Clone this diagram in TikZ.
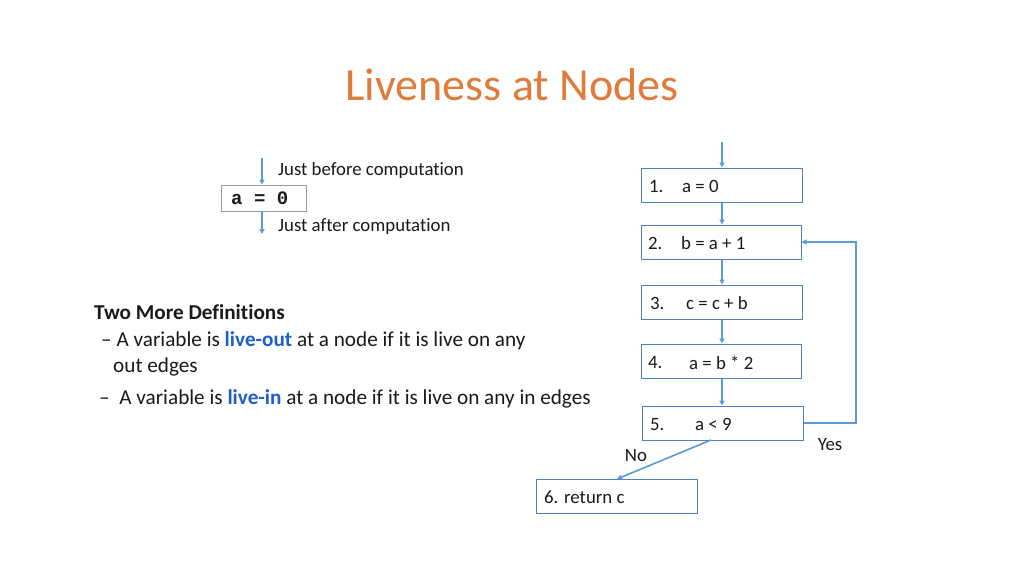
\documentclass[tikz,border=0pt]{standalone}
\usepackage{fontspec}
\setmainfont{Carlito}[Ligatures={NoCommon}]
\newfontfamily\codefont{Liberation Mono}
\usetikzlibrary{arrows.meta}
\definecolor{titleorange}{HTML}{E07B39}
\definecolor{arrowblue}{HTML}{5B9BD5}
\definecolor{boxblue}{HTML}{4F81BD}
\definecolor{keyblue}{HTML}{1F5FC8}
\definecolor{txt}{HTML}{1A1A1A}
\begin{document}
\begin{tikzpicture}[x=1pt,y=-1pt,
  flowbox/.style={draw=boxblue,line width=1pt,minimum width=161pt,minimum height=34pt,inner sep=0pt},
  flowarrow/.style={draw=arrowblue,line width=1.6pt,-{Triangle[length=5pt,width=5pt]}},
  lbl/.style={font=\fontsize{18.8}{22}\selectfont,text=txt,inner sep=0pt,anchor=west,yshift=-1.5pt},
  body/.style={font=\fontsize{21.2}{25}\selectfont,text=txt,inner sep=0pt,anchor=west,yshift=-1.5pt}]
\useasboundingbox (0,0) rectangle (1024,576);
\fill[white] (0,0) rectangle (1024,576);
% title
\node[font=\fontsize{46}{54}\selectfont,text=titleorange,inner sep=0pt] (title) at (512,85) {Liveness at Nodes};
% small example
\node[draw=gray!80,line width=0.8pt,minimum width=85pt,minimum height=26pt,inner sep=0pt] (ex) at (263.5,198) {};
\node[font=\codefont\bfseries\fontsize{19}{22}\selectfont,text=txt,inner sep=0pt,anchor=west] (extxt) at (231,198) {a = 0};
\coordinate (exin) at (262,158);
\coordinate (exout) at (262,234);
\draw[flowarrow] (exin) -- (ex.north -| exin);
\draw[flowarrow] (ex.south -| exout) -- (exout);
\node[lbl] (before) at (278,169) {Just before computation};
\node[lbl] (after) at (278,225) {Just after computation};
% definitions
\node[body,font=\bfseries\fontsize{21.2}{25}\selectfont] (defh) at (94,311) {Two More Definitions};
\node[body] (def1) at (101,339) {– A variable is \textcolor{keyblue}{\bfseries live-out} at a node if it is live on any};
\node[body] (def1b) at (113,365) {out edges};
\node[body] (def2) at (99,397) {–\ \ A variable is \textcolor{keyblue}{\bfseries live-in} at a node if it is live on any in edges};
% flow boxes
\node[flowbox] (n1) at (722,185) {};
\node[flowbox,minimum width=160pt] (n2) at (721,242) {};
\node[flowbox] (n3) at (722,302) {};
\node[flowbox,minimum width=160pt] (n4) at (721,361) {};
\node[flowbox] (n5) at (722.5,423) {};
\node[flowbox] (n6) at (616.5,496) {};
\node[lbl] (t1a) at (649,185) {1.};
\node[lbl] (t1b) at (682,185) {a = 0};
\node[lbl] (t2a) at (648,242) {2.};
\node[lbl] (t2b) at (681,242) {b = a + 1};
\node[lbl] (t3a) at (650,302) {3.};
\node[lbl] (t3b) at (686,302) {c = c + b};
\node[lbl] (t4a) at (648,361) {4.};
\node[lbl] (t4b) at (689,361) {a = b * 2};
\node[lbl] (t5a) at (650,423) {5.};
\node[lbl] (t5b) at (695,423) {a < 9};
\node[lbl] (t6) at (544,496) {6. return c};
% connectors
\coordinate (entry) at (722,142);
\draw[flowarrow] (entry) -- (n1.north -| entry);
\draw[flowarrow] (n1.south -| entry) -- (n2.north -| entry);
\draw[flowarrow] (n2.south -| entry) -- (n3.north -| entry);
\draw[flowarrow] (n3.south -| entry) -- (n4.north -| entry);
\draw[flowarrow] (n4.south -| entry) -- (n5.north -| entry);
\coordinate (loopx) at (856,0);
\draw[flowarrow] (n5.east) -- (n5.east -| loopx) -- (n2.east -| loopx) -- (n2.east);
\coordinate (nostart) at (711,440);
\coordinate (noend) at (617,479);
\draw[flowarrow] (nostart) -- (noend);
\node[lbl,anchor=center] (no) at (636,454) {No};
\node[lbl,anchor=center] (yes) at (830,443) {Yes};
\end{tikzpicture}
\end{document}
